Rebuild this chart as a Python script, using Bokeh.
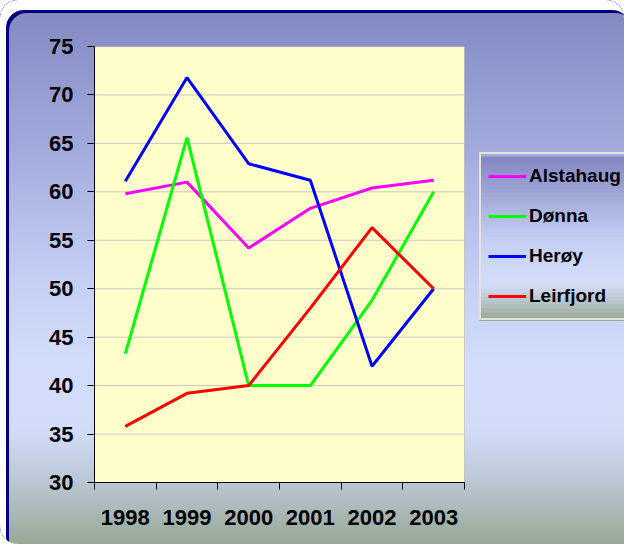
from bokeh.plotting import figure
from bokeh.models import Range1d, FixedTicker, Legend, LegendItem, BoxAnnotation
from bokeh.embed import file_html
from bokeh.resources import INLINE

years = ["1998", "1999", "2000", "2001", "2002", "2003"]
alstahaug = [59.8, 61.0, 54.2, 58.3, 60.4, 61.2]
donna = [43.3, 65.6, 40.0, 40.0, 48.8, 60.0]
heroy = [61.1, 71.8, 62.9, 61.2, 42.0, 50.0]
leirfjord = [35.8, 39.2, 40.0, 48.0, 56.3, 50.0]
series_names = ["Alstahaug", "Dønna", "Herøy", "Leirfjord"]
series_colors = ["#FF00FF", "#00FF00", "#0000FF", "#FF0000"]
y_ticks = [30, 35, 40, 45, 50, 55, 60, 65, 70, 75]

FONT = "Liberation Sans"
W, H = 624, 544
PL, PR, PT, PB = 94, 464, 46, 482          # plot-area box on the canvas
ncat = len(years)
xs = [i + 0.5 for i in range(ncat)]
x_end = ncat * (W - PL) / (PR - PL)          # frame extends to the right edge (for the legend)

p = figure(width=W, height=H, output_backend="svg", toolbar_location=None,
           x_range=Range1d(0, x_end), y_range=Range1d(30, 75),
           min_border_left=PL, min_border_right=0, min_border_top=PT,
           min_border_bottom=H - PB,
           background_fill_color=None, border_fill_color=None)
p.styles = {
    "background": "linear-gradient(to bottom, #8087C0 0%, #A2AADD 27%, #C6D0F4 52%, "
                  "#D3DDFB 68%, #D2DCF8 79%, #BCC8D6 88%, #98A896 100%)",
    "border-radius": "18px 18px 0 18px",
    "box-shadow": "inset 6px 10px 0 0 #ffffff, inset 9px 13px 0 0 #000080",
}
p.outline_line_color = None

# yellow plot area with grey top/right border
p.add_layout(BoxAnnotation(left=0, right=ncat, bottom=30, top=75,
                           fill_color="#FFFFCC", fill_alpha=1,
                           line_color="#808080", line_width=1, level="image"))

# horizontal grid lines limited to the plot area
p.segment(x0=[0] * (len(y_ticks) - 2), x1=[ncat] * (len(y_ticks) - 2),
          y0=y_ticks[1:-1], y1=y_ticks[1:-1], line_color="#C8C8C0", line_width=1,
          level="underlay")

# legend gradient background (canvas units)
lg_left, lg_right, lg_top, lg_bottom = 479, 627, 156, 320
stops = [(0.0, (0x82, 0x86, 0xC0)), (0.5, (0xC4, 0xCE, 0xF2)), (0.78, (0xD4, 0xDE, 0xFA)),
         (1.0, (0x98, 0xA8, 0x94))]


def grad(t):
    for (t0, c0), (t1, c1) in zip(stops[:-1], stops[1:]):
        if t <= t1:
            f = (t - t0) / (t1 - t0) if t1 > t0 else 0
            return "#%02x%02x%02x" % tuple(int(round(a + (b - a) * f)) for a, b in zip(c0, c1))
    return "#%02x%02x%02x" % stops[-1][1]


n = 41
h = (lg_bottom - lg_top) / n
for i in range(n):
    p.add_layout(BoxAnnotation(left=lg_left, right=lg_right,
                               top=lg_top + i * h, bottom=lg_top + (i + 1) * h + 0.6,
                               left_units="canvas", right_units="canvas",
                               top_units="canvas", bottom_units="canvas",
                               fill_color=grad((i + 0.5) / n), fill_alpha=1,
                               line_color=None, level="image"))

renderers = []
for vals, name, col in zip([alstahaug, donna, heroy, leirfjord], series_names, series_colors):
    r = p.line(xs, vals, line_color=col, line_width=3)
    renderers.append(r)

# axes
p.xgrid.visible = False
p.ygrid.visible = False

p.yaxis.ticker = FixedTicker(ticks=y_ticks)
p.yaxis.major_tick_out = 7
p.yaxis.major_tick_in = 0
p.yaxis.minor_tick_line_color = None
p.yaxis.major_label_standoff = 14
p.yaxis.major_label_text_font = FONT
p.yaxis.major_label_text_font_style = "bold"
p.yaxis.major_label_text_font_size = "22px"
p.yaxis.major_label_text_color = "black"
p.yaxis.axis_line_color = "black"

p.xaxis.bounds = (0, ncat)
p.xaxis.ticker = FixedTicker(ticks=xs, minor_ticks=list(range(ncat + 1)))
p.xaxis.major_label_overrides = {x: y for x, y in zip(xs, years)}
p.xaxis.major_tick_line_color = None
p.xaxis.major_tick_out = 0
p.xaxis.minor_tick_out = 7
p.xaxis.minor_tick_in = 0
p.xaxis.minor_tick_line_color = "black"
p.xaxis.major_label_standoff = 20
p.xaxis.major_label_text_font = FONT
p.xaxis.major_label_text_font_style = "bold"
p.xaxis.major_label_text_font_size = "22px"
p.xaxis.major_label_text_color = "black"
p.xaxis.axis_line_color = "black"

legend = Legend(items=[LegendItem(label=n_, renderers=[r]) for n_, r in zip(series_names, renderers)],
                location=(lg_left - PL, PB - lg_bottom), margin=0, padding=7, spacing=10,
                glyph_width=38, glyph_height=30, label_height=30, label_standoff=3,
                label_text_font=FONT, label_text_font_style="bold",
                label_text_font_size="19px", label_text_color="black",
                border_line_color="#E4E4DC", border_line_width=2, border_line_alpha=1,
                background_fill_alpha=0)
p.add_layout(legend)

open("out.html", "w").write(file_html(p, INLINE))
